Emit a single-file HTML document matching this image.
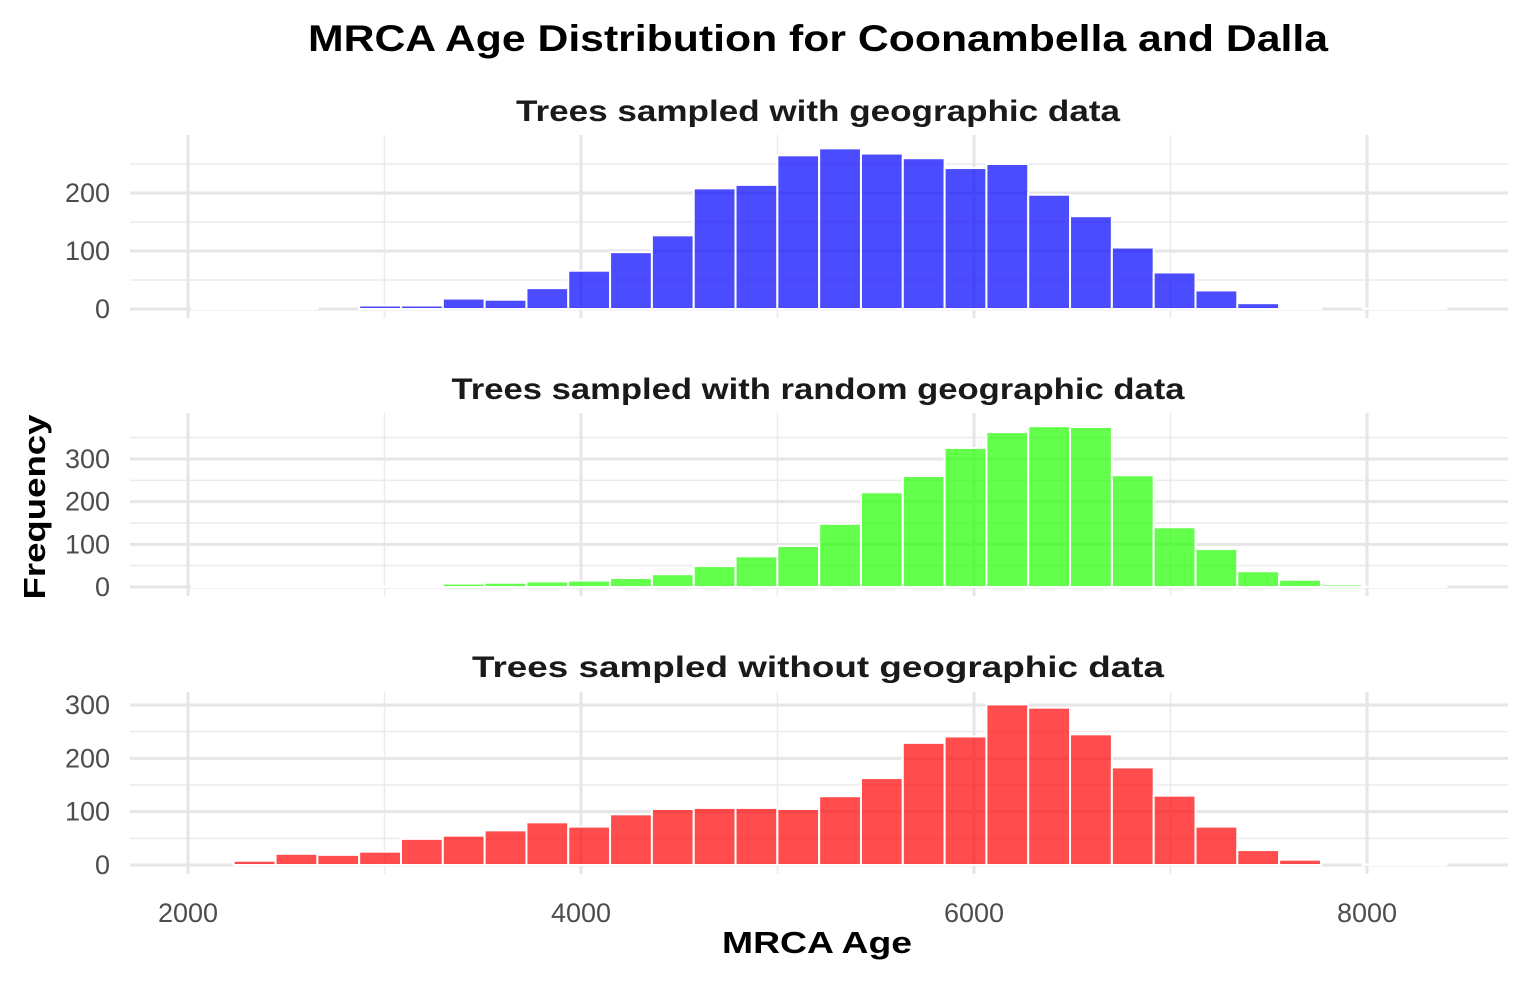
<!DOCTYPE html>
<html><head><meta charset="utf-8"><style>
body{margin:0;background:#fff;font-family:"Liberation Sans",Arial,sans-serif}
svg text{font-family:"Liberation Sans",Arial,sans-serif}
</style></head><body>
<svg id="chart" width="1526" height="980" xmlns="http://www.w3.org/2000/svg">
<text x="818" y="51" text-anchor="middle" font-size="37" font-weight="bold" fill="#000" textLength="1020" lengthAdjust="spacingAndGlyphs">MRCA Age Distribution for Coonambella and Dalla</text>
<text x="817" y="953" text-anchor="middle" font-size="31" font-weight="bold" fill="#000" textLength="190" lengthAdjust="spacingAndGlyphs">MRCA Age</text>
<text transform="translate(45,507) rotate(-90)" text-anchor="middle" font-size="31" font-weight="bold" fill="#000" textLength="185" lengthAdjust="spacingAndGlyphs">Frequency</text>
<g id="panels"></g>
</svg>
<script>
const xTicks = [2000, 4000, 6000, 8000];
const binStart = 2020;
const binWidth = 212.8;
const geoValues = [1,1,1,0,6,6,18,16,36,66,98,127,208,214,265,277,268,260,243,250,197,160,106,63,32,10,3,0,1,1];
const randomValues = [1,1,1,1,1,1,8,10,13,15,21,30,49,72,96,148,222,260,326,363,377,375,262,140,89,37,17,6,1,1];
const noGeoValues = [0,8,21,19,25,49,55,65,80,72,95,105,107,107,105,129,163,229,241,301,295,245,183,130,72,28,10,0,1,2];
const panelTitles = ["Trees sampled with geographic data","Trees sampled with random geographic data","Trees sampled without geographic data"];
const titleWidths = [604,733,692];
const yTicks1 = [0,100,200];
const yTicks2 = [0,100,200,300];
const yTicks3 = [0,100,200,300];

const NS="http://www.w3.org/2000/svg";
const g=document.getElementById('panels');
function xs(v){return 188+(v-2000)*393/2000;}
function mk(tag,attrs,parent){const e=document.createElementNS(NS,tag);for(const k in attrs)e.setAttribute(k,attrs[k]);(parent||g).appendChild(e);return e;}
const panels=[
 {vals:geoValues,ticks:yTicks1,zero:309,scale:0.58,top:135,bottom:318,title:110,color:"rgba(0,0,255,0.7)",maxMinor:250,name:"geographic"},
 {vals:randomValues,ticks:yTicks2,zero:587,scale:0.4267,top:413,bottom:596,title:388,color:"rgba(34,255,0,0.7)",maxMinor:350,name:"random"},
 {vals:noGeoValues,ticks:yTicks3,zero:865,scale:0.5333,top:692,bottom:874,title:666,color:"rgba(255,0,0,0.7)",maxMinor:330,name:"without"}
];
panels.forEach((p,pi)=>{
  const pg=mk('g',{});
  
  
  const ys=v=>p.zero-v*p.scale;
  for(let v=50;v<=p.maxMinor;v+=100){const y=ys(v);if(y<p.top)continue;mk('line',{x1:130,x2:1508,y1:y,y2:y,stroke:'#ebebeb','stroke-width':1.5},pg);}
  [3000,5000,7000].forEach(v=>mk('line',{x1:xs(v),x2:xs(v),y1:p.top,y2:p.bottom,stroke:'#ebebeb','stroke-width':1.5},pg));
  p.ticks.forEach(v=>mk('line',{x1:130,x2:1508,y1:ys(v),y2:ys(v),stroke:'#e6e6e6','stroke-width':3},pg));
  xTicks.forEach(v=>mk('line',{x1:xs(v),x2:xs(v),y1:p.top,y2:p.bottom,stroke:'#e6e6e6','stroke-width':3},pg));
  p.ticks.forEach(v=>{const t=mk('text',{x:110,y:ys(v)+9,'text-anchor':'end','font-size':27,fill:'#4d4d4d'},pg);t.textContent=v;
    
    });
  p.vals.forEach((v,i)=>{
    const x0=xs(binStart+i*binWidth),x1=xs(binStart+(i+1)*binWidth);
    const r=mk('rect',{x:x0,y:ys(v),width:x1-x0,height:v*p.scale,fill:p.color,stroke:'#fff','stroke-width':2},pg);
    
    
  });
  const t=mk('text',{x:818,y:p.title+11,'text-anchor':'middle','font-size':30,'font-weight':'bold',fill:'#1a1a1a',textLength:titleWidths[pi],lengthAdjust:'spacingAndGlyphs'},pg);
  t.textContent=panelTitles[pi];
  
  
});
xTicks.forEach(v=>{const t=mk('text',{x:xs(v),y:922,'text-anchor':'middle','font-size':27,fill:'#4d4d4d'});t.textContent=v;
  
  });
</script>
</body></html>
